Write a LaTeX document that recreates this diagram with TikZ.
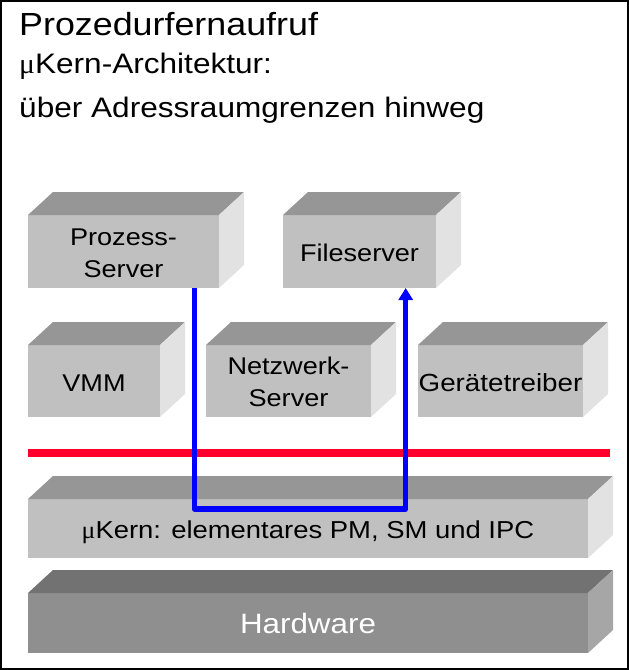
\documentclass[tikz,border=0pt]{standalone}
\usepackage{fontspec}
\setmainfont{Liberation Sans}[FakeStretch=1.12]
\newfontfamily\mufont{Liberation Serif}[FakeStretch=1.05]
\usetikzlibrary{arrows.meta,fit}
\definecolor{frontc}{RGB}{192,192,192}
\definecolor{topc}{RGB}{150,150,150}
\definecolor{sidec}{RGB}{226,226,226}
\definecolor{hwfront}{RGB}{143,143,143}
\definecolor{hwtop}{RGB}{114,114,114}
\definecolor{hwside}{RGB}{166,166,166}
\definecolor{redline}{RGB}{255,0,45}
\definecolor{bluepath}{RGB}{0,0,255}
% name, x1, ytop, x2, ybot, front, top, side
\newcommand\cubebox[8]{%
  \node[fit={(#2,#3) (#4,#5)}, inner sep=0pt, outer sep=0pt, fill=#6] (#1) {};
  \fill[#7] (#1.north west) -- ++(25,-23) -- ++({#4-#2},0) -- (#1.north east) -- cycle;
  \fill[#8] (#1.north east) -- ++(25,-23) -- ++(0,{#5-#3}) -- (#1.south east) -- cycle;
}
\tikzset{
  title/.style={anchor=base west, inner sep=0pt, font=\fontsize{28.2}{28.2}\selectfont},
  boxlabel/.style={anchor=base, inner sep=0pt, font=\fontsize{24.2}{24.2}\selectfont},
  ipc/.style={draw=bluepath, line width=5.5pt, line join=round, -{Triangle[length=12pt,width=14pt]}},
  barrier/.style={draw=redline, line width=8.3pt}
}
\begin{document}
\begin{tikzpicture}[x=1pt,y=-1pt]
\useasboundingbox (0,0) rectangle (629,670);
\draw[line width=1.6pt] (0.8,0.8) rectangle (628.2,669.2);

\node[title, font=\fontsize{32}{32}\selectfont] (t1) at (19,35) {Prozedurfernaufruf};
\node[title] (t2) at (19,73) {{\mufont μ}Kern-Architektur:};
\node[title] (t3) at (19,117) {über Adressraumgrenzen hinweg};

% top row
\cubebox{ps}{28}{215}{219}{288}{frontc}{topc}{sidec}
\cubebox{fs}{283}{215}{436}{288}{frontc}{topc}{sidec}
% middle row
\cubebox{vmm}{28}{345}{160}{417}{frontc}{topc}{sidec}
\cubebox{nw}{206}{345}{371}{417}{frontc}{topc}{sidec}
\cubebox{gt}{418}{345}{583}{417}{frontc}{topc}{sidec}
% kernel and hardware
\cubebox{mk}{28}{499}{588}{558}{frontc}{topc}{sidec}
\cubebox{hw}{28}{593}{588}{653}{hwfront}{hwtop}{hwside}

\node[boxlabel] (ps1) at (123.5,245) {Prozess-};
\node[boxlabel] (ps2) at (123.5,277) {Server};
\node[boxlabel] (fsl) at (359.5,261.5) {Fileserver};
\node[boxlabel] (vmml) at (94,391.5) {VMM};
\node[boxlabel] (nw1) at (288.5,374) {Netzwerk-};
\node[boxlabel] (nw2) at (288.5,406.5) {Server};
\node[boxlabel, font=\fontsize{24.8}{24.8}\selectfont] (gtl) at (500.5,391.5) {Gerätetreiber};
\node[boxlabel, font=\fontsize{24.5}{24.5}\selectfont] (mkl) at (308,538) {{\mufont μ}Kern: elementares PM, SM und IPC};
\node[boxlabel, font=\fontsize{28}{28}\selectfont, text=white] (hwl) at (308,633) {Hardware};

% privilege boundary
\coordinate (rl) at (28,453);
\coordinate (rr) at (610,453);
\draw[barrier] (rl) -- (rr);

% IPC path
\coordinate (k1) at (194.5,509);
\coordinate (k2) at (405.7,509);
\draw[ipc] (k1 |- ps.south) -- (k1) -- (k2) -- (k2 |- fs.south);
\end{tikzpicture}
\end{document}
